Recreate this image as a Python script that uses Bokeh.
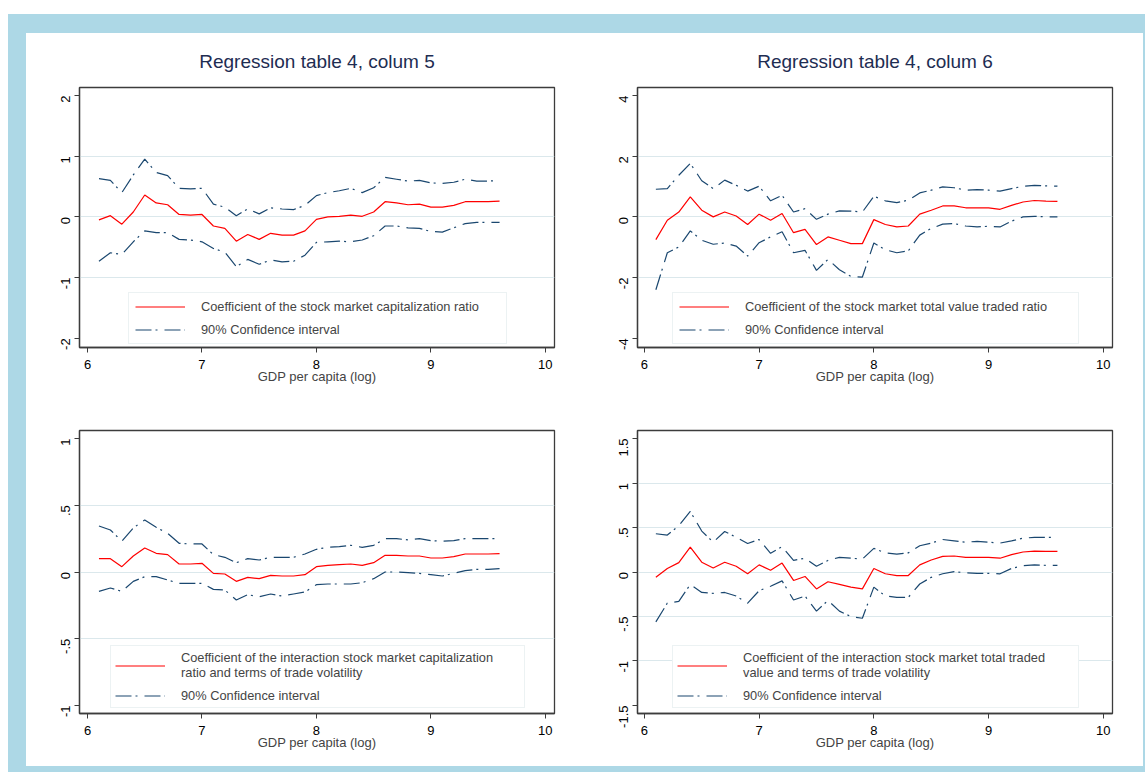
import math
from bokeh.plotting import figure
from bokeh.layouts import row, column
from bokeh.models import FixedTicker, Legend, LegendItem, Range1d, Spacer
from bokeh.embed import file_html
from bokeh.resources import INLINE

# ---------------- data ----------------
gdp = [6.1, 6.2, 6.3, 6.4, 6.5, 6.6, 6.7, 6.8, 6.9, 7.0, 7.1, 7.2,
       7.3, 7.4, 7.5, 7.6, 7.7, 7.8, 7.9, 8.0, 8.1, 8.2, 8.3, 8.4,
       8.5, 8.6, 8.7, 8.8, 8.9, 9.0, 9.1, 9.2, 9.3, 9.4, 9.5, 9.6]

# Panel 1: table 4, column 5 (stock market capitalization ratio)
coef1 = [-0.05, 0.02, -0.12, 0.08, 0.36, 0.23, 0.20, 0.04, 0.03, 0.04, -0.15, -0.19,
         -0.40, -0.29, -0.37, -0.27, -0.30, -0.30, -0.23, -0.04, 0.00, 0.01, 0.03, 0.01,
         0.08, 0.25, 0.23, 0.20, 0.21, 0.16, 0.16, 0.19, 0.25, 0.25, 0.25, 0.26]
up1 = [0.63, 0.60, 0.40, 0.69, 0.95, 0.73, 0.68, 0.47, 0.46, 0.47, 0.21, 0.16,
       0.02, 0.13, 0.05, 0.15, 0.13, 0.12, 0.19, 0.35, 0.40, 0.43, 0.47, 0.40,
       0.48, 0.65, 0.62, 0.59, 0.60, 0.56, 0.55, 0.57, 0.62, 0.59, 0.59, 0.60]
lo1 = [-0.73, -0.59, -0.62, -0.41, -0.23, -0.26, -0.26, -0.37, -0.38, -0.41, -0.52, -0.58,
       -0.82, -0.70, -0.78, -0.71, -0.74, -0.73, -0.63, -0.42, -0.41, -0.40, -0.41, -0.38,
       -0.31, -0.15, -0.15, -0.18, -0.19, -0.24, -0.25, -0.18, -0.11, -0.09, -0.09, -0.09]

# Panel 2: table 4, column 6 (stock market total value traded ratio)
coef2 = [-0.75, -0.11, 0.16, 0.66, 0.22, 0.00, 0.16, 0.03, -0.25, 0.09, -0.11, 0.11,
         -0.52, -0.41, -0.91, -0.66, -0.77, -0.88, -0.88, -0.09, -0.25, -0.33, -0.30, 0.09,
         0.22, 0.36, 0.36, 0.30, 0.30, 0.30, 0.25, 0.38, 0.49, 0.54, 0.52, 0.51]
up2 = [0.91, 0.93, 1.37, 1.76, 1.19, 0.93, 1.21, 1.04, 0.85, 1.01, 0.53, 0.71,
       0.16, 0.27, -0.08, 0.09, 0.20, 0.19, 0.16, 0.68, 0.53, 0.47, 0.55, 0.79,
       0.88, 0.99, 0.96, 0.88, 0.90, 0.88, 0.85, 0.93, 1.01, 1.04, 1.02, 1.01]
lo2 = [-2.40, -1.18, -0.99, -0.46, -0.77, -0.90, -0.86, -0.96, -1.29, -0.85, -0.66, -0.49,
       -1.18, -1.10, -1.76, -1.40, -1.74, -1.96, -1.98, -0.86, -1.08, -1.18, -1.12, -0.60,
       -0.38, -0.24, -0.22, -0.30, -0.33, -0.31, -0.33, -0.14, 0.00, 0.02, 0.00, 0.00]

# Panel 3: interaction capitalization x ToT volatility
coef3 = [0.10, 0.10, 0.04, 0.12, 0.18, 0.14, 0.13, 0.06, 0.06, 0.065, -0.01, -0.015,
         -0.07, -0.04, -0.05, -0.025, -0.03, -0.03, -0.02, 0.04, 0.05, 0.055, 0.06, 0.05,
         0.07, 0.125, 0.125, 0.12, 0.12, 0.105, 0.105, 0.115, 0.135, 0.135, 0.135, 0.137]
up3 = [0.345, 0.315, 0.23, 0.33, 0.39, 0.335, 0.29, 0.215, 0.21, 0.21, 0.13, 0.11,
       0.07, 0.10, 0.09, 0.11, 0.11, 0.11, 0.135, 0.17, 0.185, 0.19, 0.20, 0.185,
       0.20, 0.25, 0.25, 0.24, 0.25, 0.235, 0.23, 0.235, 0.25, 0.25, 0.25, 0.25]
lo3 = [-0.145, -0.12, -0.145, -0.07, -0.035, -0.035, -0.06, -0.085, -0.085, -0.085, -0.13, -0.135,
       -0.21, -0.17, -0.185, -0.165, -0.18, -0.165, -0.15, -0.095, -0.09, -0.09, -0.09, -0.08,
       -0.05, 0.00, 0.00, -0.005, -0.01, -0.02, -0.03, -0.01, 0.01, 0.02, 0.02, 0.025]

# Panel 4: interaction total value traded x ToT volatility
coef4 = [-0.06, 0.04, 0.105, 0.28, 0.11, 0.045, 0.11, 0.065, -0.02, 0.08, 0.02, 0.10,
         -0.095, -0.05, -0.19, -0.11, -0.14, -0.17, -0.19, 0.04, -0.02, -0.04, -0.04, 0.08,
         0.135, 0.175, 0.18, 0.165, 0.165, 0.165, 0.155, 0.195, 0.225, 0.235, 0.232, 0.232]
up4 = [0.43, 0.415, 0.52, 0.68, 0.46, 0.335, 0.455, 0.39, 0.32, 0.365, 0.21, 0.285,
       0.13, 0.155, 0.065, 0.13, 0.165, 0.155, 0.145, 0.265, 0.215, 0.20, 0.215, 0.295,
       0.325, 0.365, 0.35, 0.335, 0.345, 0.335, 0.325, 0.35, 0.38, 0.39, 0.39, 0.39]
lo4 = [-0.56, -0.35, -0.33, -0.14, -0.23, -0.24, -0.23, -0.27, -0.35, -0.21, -0.16, -0.10,
       -0.315, -0.27, -0.44, -0.32, -0.44, -0.50, -0.52, -0.17, -0.27, -0.285, -0.285, -0.135,
       -0.06, -0.02, 0.005, -0.01, -0.015, -0.015, -0.02, 0.04, 0.07, 0.08, 0.075, 0.075]

x_ticks = [6, 7, 8, 9, 10]
y_ticks1 = [-2, -1, 0, 1, 2]
y_ticks2 = [-4, -2, 0, 2, 4]
y_ticks3 = [-1, -0.5, 0, 0.5, 1]
y_labels3 = ["-1", "-.5", "0", ".5", "1"]
y_ticks4 = [-1.5, -1, -0.5, 0, 0.5, 1, 1.5]
y_labels4 = ["-1.5", "-1", "-.5", "0", ".5", "1", "1.5"]

titles = ["Regression table 4, colum 5", "Regression table 4, colum 6"]
legend_coef = [
    "Coefficient of the stock market capitalization ratio",
    "Coefficient of the stock market total value traded ratio",
    "Coefficient of the interaction stock market capitalization\nratio and terms of trade volatility",
    "Coefficient of the interaction stock market total traded\nvalue and terms of trade volatility",
]
legend_ci = "90% Confidence interval"
x_label = "GDP per capita (log)"

FONT = "Liberation Sans"
RED = "#ff0000"
NAVY = "#1a476f"
FRAME = "#3c3c3c"
BLUE = "#add8e6"


def make_panel(coef, up, lo, yticks, ylabels, yr, xr, title, leg_label,
               width, height, mb, leg_loc, leg_lw, leg_pad, leg_spacing):
    p = figure(width=width, height=height, output_backend="svg", toolbar_location=None,
               x_range=Range1d(*xr), y_range=Range1d(*yr), sizing_mode="fixed")
    p.min_border_left, p.min_border_right, p.min_border_top, p.min_border_bottom = mb
    p.background_fill_color = "white"
    p.border_fill_color = "white"
    p.outline_line_color = FRAME
    p.outline_line_width = 1.3
    if title:
        p.title.text = title
        p.title.align = "center"
        p.title.text_font = FONT
        p.title.text_font_size = "19px"
        p.title.text_font_style = "normal"
        p.title.text_color = "#1e2d52"
        p.title.standoff = 31

    r_coef = p.line(gdp, coef, line_color=RED, line_width=1.2)
    r_up = p.line(gdp, up, line_color=NAVY, line_width=1.2, line_dash="16 4 2 7")
    p.line(gdp, lo, line_color=NAVY, line_width=1.2, line_dash="16 4 2 7")

    # axes
    p.xaxis.ticker = FixedTicker(ticks=x_ticks)
    p.xaxis.axis_label = x_label
    p.xaxis.axis_label_text_font = FONT
    p.xaxis.axis_label_text_font_size = "13px"
    p.xaxis.axis_label_text_font_style = "normal"
    p.xaxis.axis_label_standoff = -3
    p.xaxis.major_label_standoff = 7
    p.yaxis.ticker = FixedTicker(ticks=yticks)
    p.yaxis.major_label_overrides = {t: l for t, l in zip(yticks, ylabels)}
    p.yaxis.major_label_orientation = math.pi / 2
    p.yaxis.major_label_standoff = 9
    for ax in (p.xaxis, p.yaxis):
        ax.major_label_text_font = FONT
        ax.major_label_text_font_size = "13px"
        ax.major_label_text_color = "black"
        ax.major_tick_out = 5
        ax.major_tick_in = 0
        ax.minor_tick_out = 0
        ax.minor_tick_in = 0
        ax.major_tick_line_color = FRAME
        ax.axis_line_color = FRAME
        ax.axis_line_width = 1.3
    p.xgrid.visible = False
    p.ygrid.ticker = FixedTicker(ticks=yticks[1:-1])
    p.ygrid.grid_line_color = "#dbe8ec"
    p.ygrid.grid_line_width = 1

    legend = Legend(items=[LegendItem(label=leg_label, renderers=[r_coef]),
                           LegendItem(label=legend_ci, renderers=[r_up])],
                    location=leg_loc, orientation="vertical")
    legend.label_text_font = FONT
    legend.label_text_font_size = "12.8px"
    legend.label_text_line_height = 1.15
    legend.glyph_width = 50
    legend.glyph_height = 15
    legend.label_height = 15
    legend.label_width = leg_lw
    legend.label_standoff = 16
    legend.spacing = leg_spacing
    legend.padding = leg_pad
    legend.margin = 0
    legend.border_line_color = "#d9e6e8"
    legend.border_line_width = 1
    legend.background_fill_color = "white"
    legend.background_fill_alpha = 1
    p.add_layout(legend, "center")
    return p


p1 = make_panel(coef1, up1, lo1, y_ticks1, [str(t) for t in y_ticks1], (-2.15, 2.13),
                (5.93, 10.08), titles[0], legend_coef[0],
                558, 362, (53, 30, 54, 48), (49, 3), 299, 6, 8)
p2 = make_panel(coef2, up2, lo2, y_ticks2, [str(t) for t in y_ticks2], (-4.30, 4.26),
                (5.94, 10.08), titles[1], legend_coef[1],
                559, 362, (53, 31, 54, 48), (35, 3), 327, 6, 8)
p3 = make_panel(coef3, up3, lo3, y_ticks3, y_labels3, (-1.06, 1.06),
                (5.93, 10.08), None, legend_coef[2],
                558, 371, (53, 30, 35, 53), (31, 5), 339, 4, 8)
p4 = make_panel(coef4, up4, lo4, y_ticks4, y_labels4, (-1.59, 1.59),
                (5.94, 10.08), None, legend_coef[3],
                559, 371, (53, 31, 35, 53), (35, 5), 331, 4, 8)


def sp(w, h):
    return Spacer(width=w, height=h, sizing_mode="fixed")


top_row = row(p1, p2, spacing=0, sizing_mode="fixed", width=1117, height=362,
              styles={"background-color": "white"})
bot_row = row(p3, p4, spacing=0, sizing_mode="fixed", width=1117, height=371,
              styles={"background-color": "white"})
grid = column(top_row, bot_row, spacing=0, sizing_mode="fixed", width=1117, height=733,
              styles={"background-color": "white"})
middle = row(sp(18, 733), grid, sp(2, 733), spacing=0, sizing_mode="fixed",
             width=1137, height=733)
bluebox = column(sp(1137, 19), middle, sp(1137, 6), spacing=0, sizing_mode="fixed",
                 width=1137, height=758, styles={"background-color": BLUE})
right_part = column(sp(1137, 14), bluebox, spacing=0, sizing_mode="fixed",
                    width=1137, height=772)
layout = row(sp(8, 772), right_part, spacing=0, sizing_mode="fixed",
             width=1145, height=772)

open("out.html", "w").write(file_html(layout, INLINE))
